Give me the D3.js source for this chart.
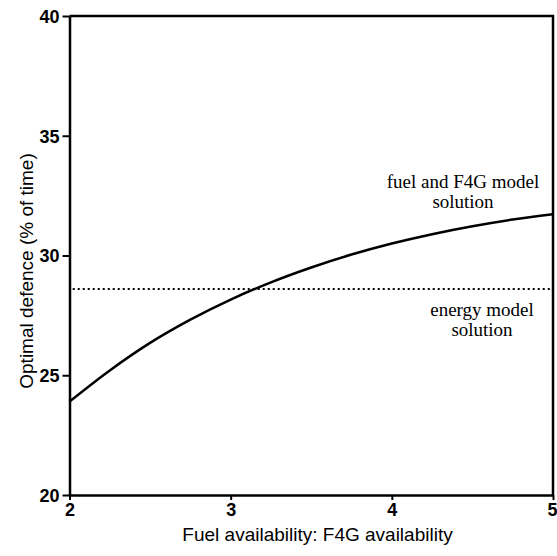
<!DOCTYPE html>
<html><head><meta charset="utf-8">
<script src="https://cdn.jsdelivr.net/npm/d3@7"></script>
<style>
html,body{margin:0;padding:0;background:#fff;}
svg{display:block;}
</style></head>
<body>
<script>
// Data
const xTicks = [2, 3, 4, 5];
const yTicks = [20, 25, 30, 35, 40];
const fuelX = [2, 2.25, 2.5, 2.75, 3, 3.25, 3.5, 3.75, 4, 4.25, 4.5, 4.75, 5];
const fuelY = [23.9, 25.2, 26.35, 27.32, 28.16, 28.88, 29.5, 30.04, 30.5, 30.89, 31.22, 31.5, 31.72];
const energyY = 28.6;
const energyX = [2.02, 5];
const xTitle = "Fuel availability: F4G availability";
const yTitle = "Optimal defence (% of time)";
const fuelLabel = ["fuel and F4G model", "solution"];
const energyLabel = ["energy model", "solution"];

const W = 557, H = 556;
const svg = d3.select("body").append("svg").attr("width", W).attr("height", H);
const m = {left: 69.5, right: 4, top: 16, bottom: 61};
const x = d3.scaleLinear().domain([2, 5]).range([m.left, W - m.right]);
const y = d3.scaleLinear().domain([20, 40]).range([H - m.bottom, m.top]);

const sans = "'Liberation Sans', Arial, sans-serif";
const serif = "'Liberation Serif', 'Times New Roman', serif";

// frame (top and right)
svg.append("path")
  .attr("d", `M${x(2)},${y(40)}H${x(5)}V${y(20)}`)
  .attr("fill", "none").attr("stroke", "#000").attr("stroke-width", 2.5);

const yAxis = svg.append("g").attr("transform", `translate(${x(2)},0)`)
  .call(d3.axisLeft(y).tickValues(yTicks).tickSize(7).tickPadding(3).tickSizeOuter(0).tickFormat(d3.format("d")));
const xAxis = svg.append("g").attr("transform", `translate(0,${y(20)})`)
  .call(d3.axisBottom(x).tickValues(xTicks).tickSize(5).tickPadding(3).tickSizeOuter(0).tickFormat(d3.format("d")));
[xAxis, yAxis].forEach(g => {
  g.select(".domain").attr("stroke", "#000").attr("stroke-width", 2.5);
  g.selectAll(".tick line").attr("stroke", "#000").attr("stroke-width", 2);
  g.selectAll(".tick text").attr("fill", "#000").style("font-family", sans).style("font-size", "18px").style("font-weight", "bold");
});
yAxis.selectAll(".tick text").attr("dy", "0.36em");
// keep the last x tick label inside the window
xAxis.selectAll(".tick text").filter(d => d === xTicks[xTicks.length - 1])
  .attr("text-anchor", "end").attr("x", W - x(5));

// curves
const line = d3.line().x(d => x(d[0])).y(d => y(d[1])).curve(d3.curveMonotoneX);
svg.append("path").datum(fuelX.map((v, i) => [v, fuelY[i]]))
  .attr("d", line).attr("fill", "none").attr("stroke", "#000").attr("stroke-width", 2.5);
svg.append("path").datum(energyX.map(v => [v, energyY]))
  .attr("d", d3.line().x(d => x(d[0])).y(d => y(d[1])))
  .attr("fill", "none").attr("stroke", "#000").attr("stroke-width", 2).attr("stroke-dasharray", "2,3");

// axis titles
svg.append("text").attr("x", 317.5).attr("y", 541).attr("text-anchor", "middle")
  .style("font-family", sans).style("font-size", "19px").text(xTitle);
svg.append("text").attr("transform", `translate(33,271) rotate(-90)`).attr("text-anchor", "middle")
  .style("font-family", sans).style("font-size", "19px").text(yTitle);

// annotations
const ann = (lines, cx, by) => lines.forEach((t, i) =>
  svg.append("text").attr("x", cx).attr("y", by + i * 19.5).attr("text-anchor", "middle")
    .style("font-family", serif).style("font-size", "19px").text(t));
ann(fuelLabel, 463, 188);
ann(energyLabel, 482, 316);
</script>
</body></html>
